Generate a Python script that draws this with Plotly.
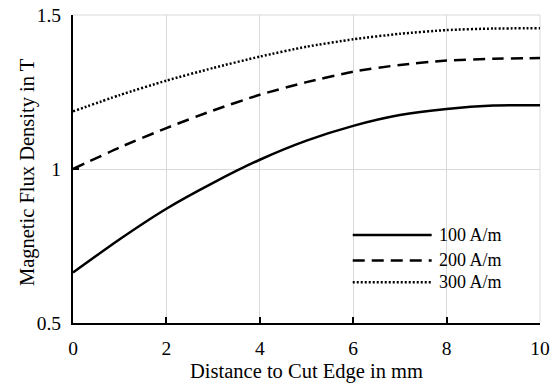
import plotly.graph_objects as go

distance_mm = [0, 1, 2, 3, 4, 5, 6, 7, 8, 9, 10]
b_100 = [0.664, 0.772, 0.871, 0.955, 1.030, 1.092, 1.140, 1.175, 1.195, 1.206, 1.207]
b_200 = [1.000, 1.070, 1.133, 1.190, 1.241, 1.282, 1.316, 1.338, 1.352, 1.358, 1.360]
b_300 = [1.187, 1.240, 1.287, 1.328, 1.365, 1.397, 1.421, 1.439, 1.451, 1.456, 1.457]
series_names = ["100 A/m", "200 A/m", "300 A/m"]
x_ticks = [0, 2, 4, 6, 8, 10]
y_ticks = [0.5, 1, 1.5]
y_tick_labels = ["0.5", "1", "1.5"]
x_title = "Distance to Cut Edge in mm"
y_title = "Magnetic Flux Density in T"

FONT = "Liberation Serif, Times New Roman, serif"
GRID = "#d9d9d9"
dashes = ["solid", "12px,7px", "2px,2px"]
series = [b_100, b_200, b_300]

fig = go.Figure()
for name, vals, d in zip(series_names, series, dashes):
    fig.add_trace(go.Scatter(
        x=distance_mm, y=vals, mode="lines", name=name,
        line=dict(color="black", width=2.5, dash=d, shape="spline", smoothing=0.6),
        showlegend=False, cliponaxis=False, hoverinfo="skip",
    ))

# grid lines at the range edges (plotly drops them), drawn below the data
shapes = [
    dict(type="line", xref="paper", yref="paper", x0=0, x1=1, y0=1, y1=1,
         line=dict(color=GRID, width=1), layer="below"),
    dict(type="line", xref="paper", yref="paper", x0=1, x1=1, y0=0, y1=1,
         line=dict(color=GRID, width=1), layer="below"),
]
annotations = []
# custom legend with long line samples
legend_y = [0.286, 0.203, 0.132]
for name, d, ly in zip(series_names, dashes, legend_y):
    shapes.append(dict(type="line", xref="paper", yref="paper",
                       x0=0.599, x1=0.768, y0=ly, y1=ly,
                       line=dict(color="black", width=2.5, dash=d)))
    annotations.append(dict(xref="paper", yref="paper", x=0.780, y=ly,
                            text=name, showarrow=False, xanchor="left", yanchor="middle",
                            font=dict(family=FONT, size=18, color="black")))
annotations.append(dict(xref="paper", yref="paper", x=-0.0985, y=0.49, text=y_title,
                        textangle=-90, showarrow=False, xanchor="center", yanchor="middle",
                        font=dict(family=FONT, size=20.5, color="black")))

fig.update_layout(
    width=550, height=389,
    margin=dict(l=73, r=10, t=15, b=65.7, autoexpand=False),
    paper_bgcolor="white", plot_bgcolor="white",
    font=dict(family=FONT, size=19.5, color="black"),
    shapes=shapes, annotations=annotations,
    xaxis=dict(
        range=[0, 10], tickvals=x_ticks, ticks="inside", ticklen=6, tickwidth=2,
        tickcolor="black", showline=True, linecolor="black", linewidth=2,
        showgrid=True, gridcolor=GRID, gridwidth=1, zeroline=False,
        title=dict(text=x_title, font=dict(family=FONT, size=20.5), standoff=5),
        tickfont=dict(family=FONT, size=19.5), ticklabelstandoff=7,
        ticklabeloverflow="allow",
    ),
    yaxis=dict(
        range=[0.5, 1.5], tickvals=y_ticks, ticktext=y_tick_labels, ticks="inside",
        ticklen=6, tickwidth=2, tickcolor="black", showline=True, linecolor="black",
        linewidth=2, showgrid=True, gridcolor=GRID, gridwidth=1, zeroline=False,
        tickfont=dict(family=FONT, size=19.5), ticklabelstandoff=6,
        ticklabeloverflow="allow",
    ),
)
fig.write_html(
    "out.html",
    config={"displayModeBar": False, "staticPlot": True},
    post_script="document.body.style.margin='0px';document.body.style.overflow='hidden';",
)
